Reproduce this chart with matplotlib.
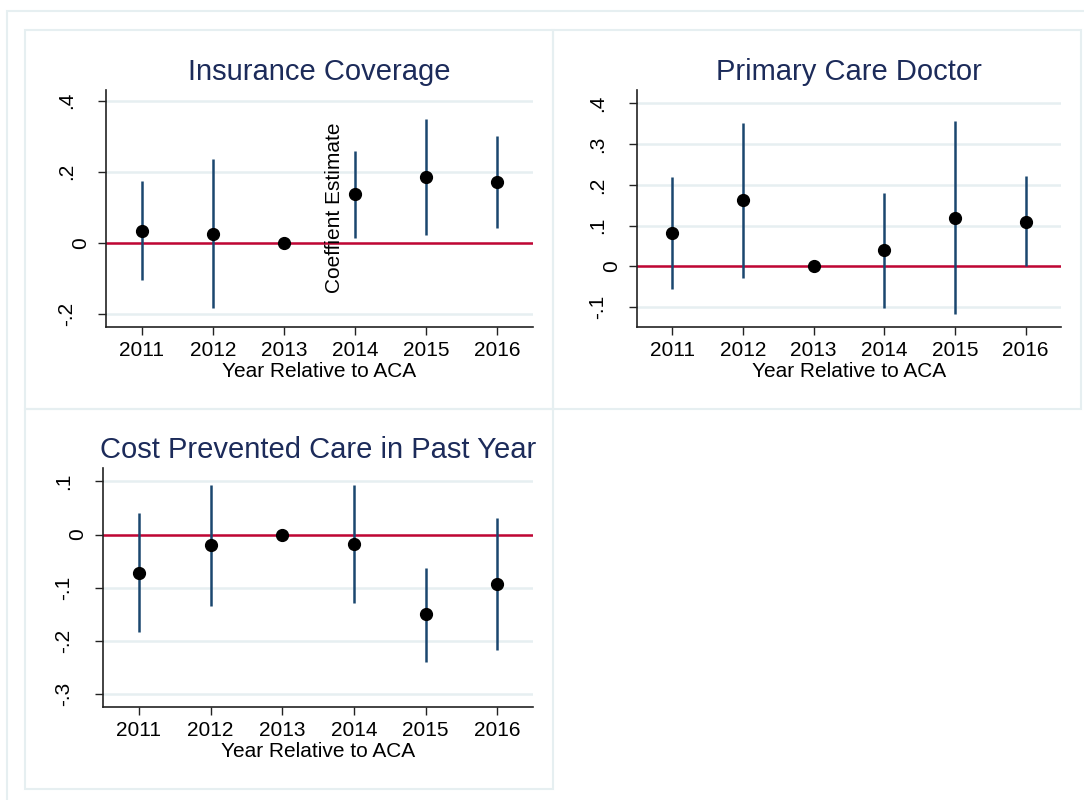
import numpy as np
import matplotlib.pyplot as plt
from matplotlib.patches import Rectangle
from matplotlib.transforms import ScaledTranslation

plt.rcParams['font.family'] = ['Liberation Sans', 'DejaVu Sans']

years = [2011, 2012, 2013, 2014, 2015, 2016]

# event-study coefficients and 95% CI bounds (2013 is the omitted base year)
ins_est = [0.034, 0.026, 0.0, 0.137, 0.185, 0.170]
ins_lo = [-0.106, -0.184, np.nan, 0.014, 0.022, 0.042]
ins_hi = [0.173, 0.237, np.nan, 0.257, 0.349, 0.300]

pcd_est = [0.083, 0.163, 0.0, 0.041, 0.118, 0.110]
pcd_lo = [-0.055, -0.029, np.nan, -0.102, -0.118, 0.0]
pcd_hi = [0.219, 0.353, np.nan, 0.180, 0.356, 0.223]

cost_est = [-0.072, -0.020, 0.0, -0.017, -0.150, -0.092]
cost_lo = [-0.184, -0.135, np.nan, -0.129, -0.239, -0.217]
cost_hi = [0.040, 0.093, np.nan, 0.093, -0.062, 0.031]

ins_yticks = [-0.2, 0.0, 0.2, 0.4]
ins_ylabels = ['-.2', '0', '.2', '.4']
pcd_yticks = [-0.1, 0.0, 0.1, 0.2, 0.3, 0.4]
pcd_ylabels = ['-.1', '0', '.1', '.2', '.3', '.4']
cost_yticks = [-0.3, -0.2, -0.1, 0.0, 0.1]
cost_ylabels = ['-.3', '-.2', '-.1', '0', '.1']

W, H = 1084, 800
navy = '#1a476f'
red = '#c10534'
grid = '#e6eff1'
dark = '#222222'
fs = 15

fig = plt.figure(figsize=(W / 100, H / 100), dpi=100)


def px_rect(x0, y0, x1, y1):
    return [x0 / W, 1 - y1 / H, (x1 - x0) / W, (y1 - y0) / H]


def draw_panel(rect, est, lo, hi, yticks, ylabels, ylim, title):
    ax = fig.add_axes(px_rect(*rect))
    ax.set_axisbelow(True)
    ax.yaxis.grid(True, color=grid, lw=1.8)
    ax.axhline(0, color=red, lw=1.8, zorder=2)
    ax.vlines(years, lo, hi, color=navy, lw=1.8, zorder=3)
    ax.plot(years, est, 'o', color='black', ms=8.5, zorder=4, clip_on=False)

    ax.set_xlim(2010.5, 2016.5)
    ax.set_ylim(*ylim)
    ax.set_xticks(years, [str(y) for y in years])
    ax.set_yticks(yticks, ylabels, rotation=90, va='center')
    for s in ['top', 'right']:
        ax.spines[s].set_visible(False)
    for s in ['left', 'bottom']:
        ax.spines[s].set_color(dark)
        ax.spines[s].set_linewidth(1.2)
    ax.tick_params(axis='x', length=6, width=1, color=dark, labelsize=fs, pad=4)
    ax.tick_params(axis='y', length=6, width=1, color=dark, labelsize=fs, pad=15.5)
    ax.set_xlabel('Year Relative to ACA', fontsize=fs, labelpad=1.5)
    ax.set_title(title, fontsize=21, color='#1c2b5a', pad=7)

    # the zero label sits closer to the axis than the others
    for tick, lab in zip(ax.yaxis.get_major_ticks(), ylabels):
        if lab == '0':
            tick.label1.set_transform(tick.label1.get_transform() +
                                      ScaledTranslation(0.14, 0, fig.dpi_scale_trans))
    return ax


draw_panel((106, 90, 533, 327), ins_est, ins_lo, ins_hi,
           ins_yticks, ins_ylabels, (-0.237, 0.43), 'Insurance Coverage')
draw_panel((637, 90, 1061, 327), pcd_est, pcd_lo, pcd_hi,
           pcd_yticks, pcd_ylabels, (-0.149, 0.433), 'Primary Care Doctor')
draw_panel((103, 468, 533, 707), cost_est, cost_lo, cost_hi,
           cost_yticks, cost_ylabels, (-0.324, 0.125), 'Cost Prevented Care in Past Year')

fig.text(334 / W, 1 - 207.5 / H, 'Coeffient Estimate', rotation=90,
         ha='center', va='center', fontsize=fs)

# outer frame and panel frames
frame = '#e6eff1'
fig.add_artist(Rectangle((7 / W, -0.1), 1.2, 1 - 11 / H + 0.1, transform=fig.transFigure,
                         fill=False, ec=frame, lw=1.5))
for r in [(25, 30, 553, 409), (553, 30, 1081, 409), (25, 409, 553, 789)]:
    x, y, w, h = px_rect(*r)
    fig.add_artist(Rectangle((x, y), w, h, transform=fig.transFigure,
                             fill=False, ec=frame, lw=1.5))

fig.savefig('out.png', dpi=100)
